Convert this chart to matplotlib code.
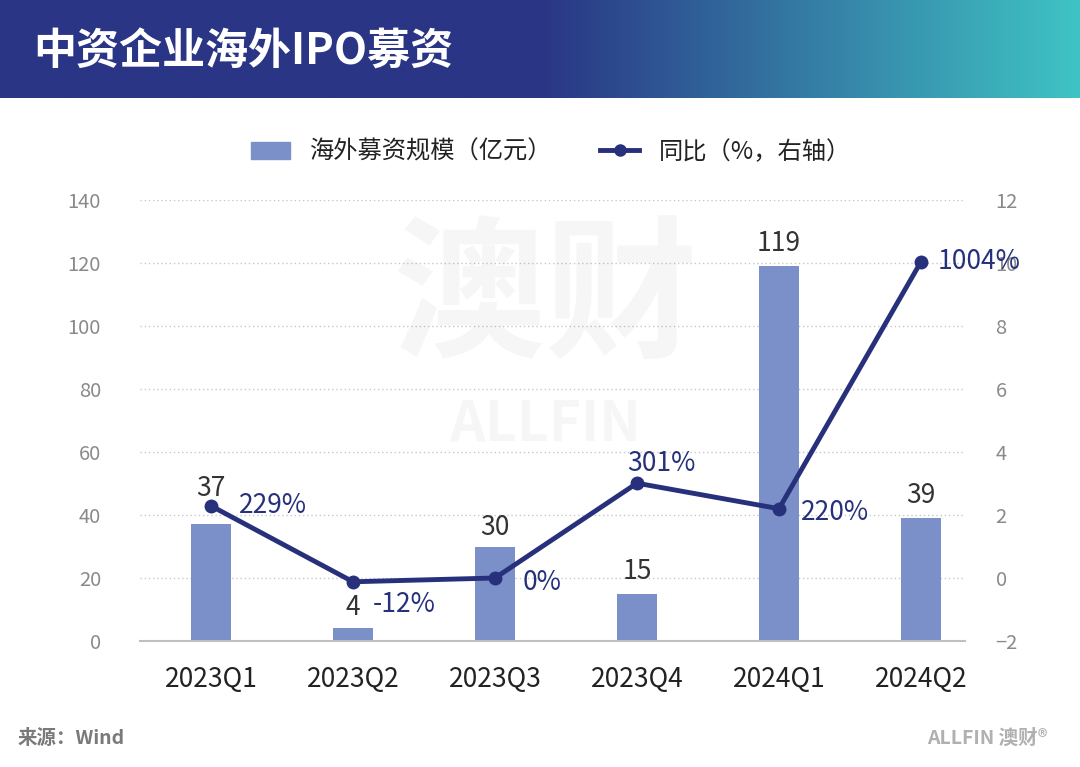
import matplotlib
matplotlib.use("Agg")
import matplotlib.pyplot as plt
import numpy as np
from matplotlib.lines import Line2D
from matplotlib.patches import Patch

plt.rcParams['font.family'] = ['Noto Sans CJK SC', 'DejaVu Sans']

categories = ["2023Q1", "2023Q2", "2023Q3", "2023Q4", "2024Q1", "2024Q2"]
amount = [37, 4, 30, 15, 119, 39]           # 海外募资规模（亿元）
yoy = [2.29, -0.12, 0.00, 3.01, 2.20, 10.04]  # 同比（右轴，百倍%）
yoy_labels = ["229%", "-12%", "0%", "301%", "220%", "1004%"]

bar_color = "#7b8fc8"
line_color = "#27307a"

fig = plt.figure(figsize=(10.8, 7.67), dpi=100)
W, H = 1080, 767

# header gradient band
hdr = fig.add_axes([0, 1 - 98 / H, 1, 98 / H])
grad = np.linspace(0, 1, 512)
c0 = np.array([0x2a, 0x35, 0x85]) / 255
c1 = np.array([0x3f, 0xc4, 0xc4]) / 255
t = np.clip((grad - 0.5) / 0.5, 0, 1)
cols = (1 - t)[:, None] * c0 + t[:, None] * c1
hdr.imshow(cols[None, :, :], aspect='auto', extent=[0, 1, 0, 1])
hdr.set_axis_off()
fig.text(33 / W, 1 - 52 / H, "中资企业海外IPO募资", color="white", fontsize=31,
         fontweight="black", va="center", ha="left")

# main axes
left_px, right_px, top_px, bot_px = 140, 965, 200, 641
ax = fig.add_axes([left_px / W, 1 - bot_px / H, (right_px - left_px) / W, (bot_px - top_px) / H])
ax2 = ax.twinx()

x = np.arange(len(categories))
ax.bar(x, amount, width=0.28, color=bar_color, zorder=2)
ax.set_xlim(-0.5, 5.31)
ax.set_ylim(0, 140)
ax.set_yticks(range(0, 141, 20))
ax.set_xticks(x)
ax.set_xticklabels(categories, fontsize=19, color="#222222")
ax.tick_params(axis='x', length=0, pad=18)
ax.tick_params(axis='y', length=0, labelsize=14.5, labelcolor="#8a8a8a", pad=28)
ax.grid(axis='y', linestyle=(0, (1, 2)), color="#c8c8c8", linewidth=1, zorder=0)
for s in ["top", "right", "left"]:
    ax.spines[s].set_visible(False)
ax.spines["bottom"].set_color("#c0c0c0")
ax.spines["bottom"].set_linewidth(1.5)

ax2.plot(x, yoy, color=line_color, linewidth=3.5, marker='o', markersize=9, zorder=5)
ax2.set_ylim(-2, 12)
ax2.set_yticks(range(-2, 13, 2))
ax2.tick_params(axis='y', length=0, labelsize=14.5, labelcolor="#8a8a8a", pad=22)
for s in ax2.spines.values():
    s.set_visible(False)

# bar value labels (offsets in points above bar top)
bar_off = [26, 15, 14, 16, 16, 16]
for xi, v, off in zip(x, amount, bar_off):
    ax.annotate(str(v), (xi, v), xytext=(0, off), textcoords="offset points",
                ha="center", va="center", fontsize=19, color="#333333", zorder=6)

# line value labels
offsets = [(20, 0), (14, -16), (20, -3), (-7, 14), (16, -3), (12, 0)]
for xi, v, lab, off in zip(x, yoy, yoy_labels, offsets):
    ax2.annotate(lab, (xi, v), xytext=off, textcoords="offset points",
                 ha="left", va="center", fontsize=19, color=line_color, zorder=7)

# legend
handles = [Patch(color=bar_color, label="海外募资规模（亿元）"),
           Line2D([0], [0], color=line_color, linewidth=3.5, marker='o', markersize=8,
                  label="同比（%，右轴）")]
fig.legend(handles=handles, loc="center", bbox_to_anchor=(0.51, 1 - 152 / H), ncol=2,
           frameon=False, fontsize=17.5, handlelength=1.6, handletextpad=0.8,
           columnspacing=2.0, labelcolor="#222222")

# faint watermark
fig.text(545 / W, 1 - 300 / H, "澳财", fontsize=110, color="#000000", alpha=0.035,
         ha="center", va="center", fontweight="black")
fig.text(545 / W, 1 - 425 / H, "ALLFIN", fontsize=40, color="#000000", alpha=0.035,
         ha="center", va="center", fontweight="bold")

# footer
fig.text(18 / W, 1 - 738 / H, "来源：Wind", fontsize=14, color="#7a7a7a",
         ha="left", va="center", fontweight="bold")
fig.text(1048 / W, 1 - 738 / H, "ALLFIN 澳财®", fontsize=14, color="#b0b0b0",
         ha="right", va="center", fontweight="bold")

fig.savefig("out.png", dpi=100)
